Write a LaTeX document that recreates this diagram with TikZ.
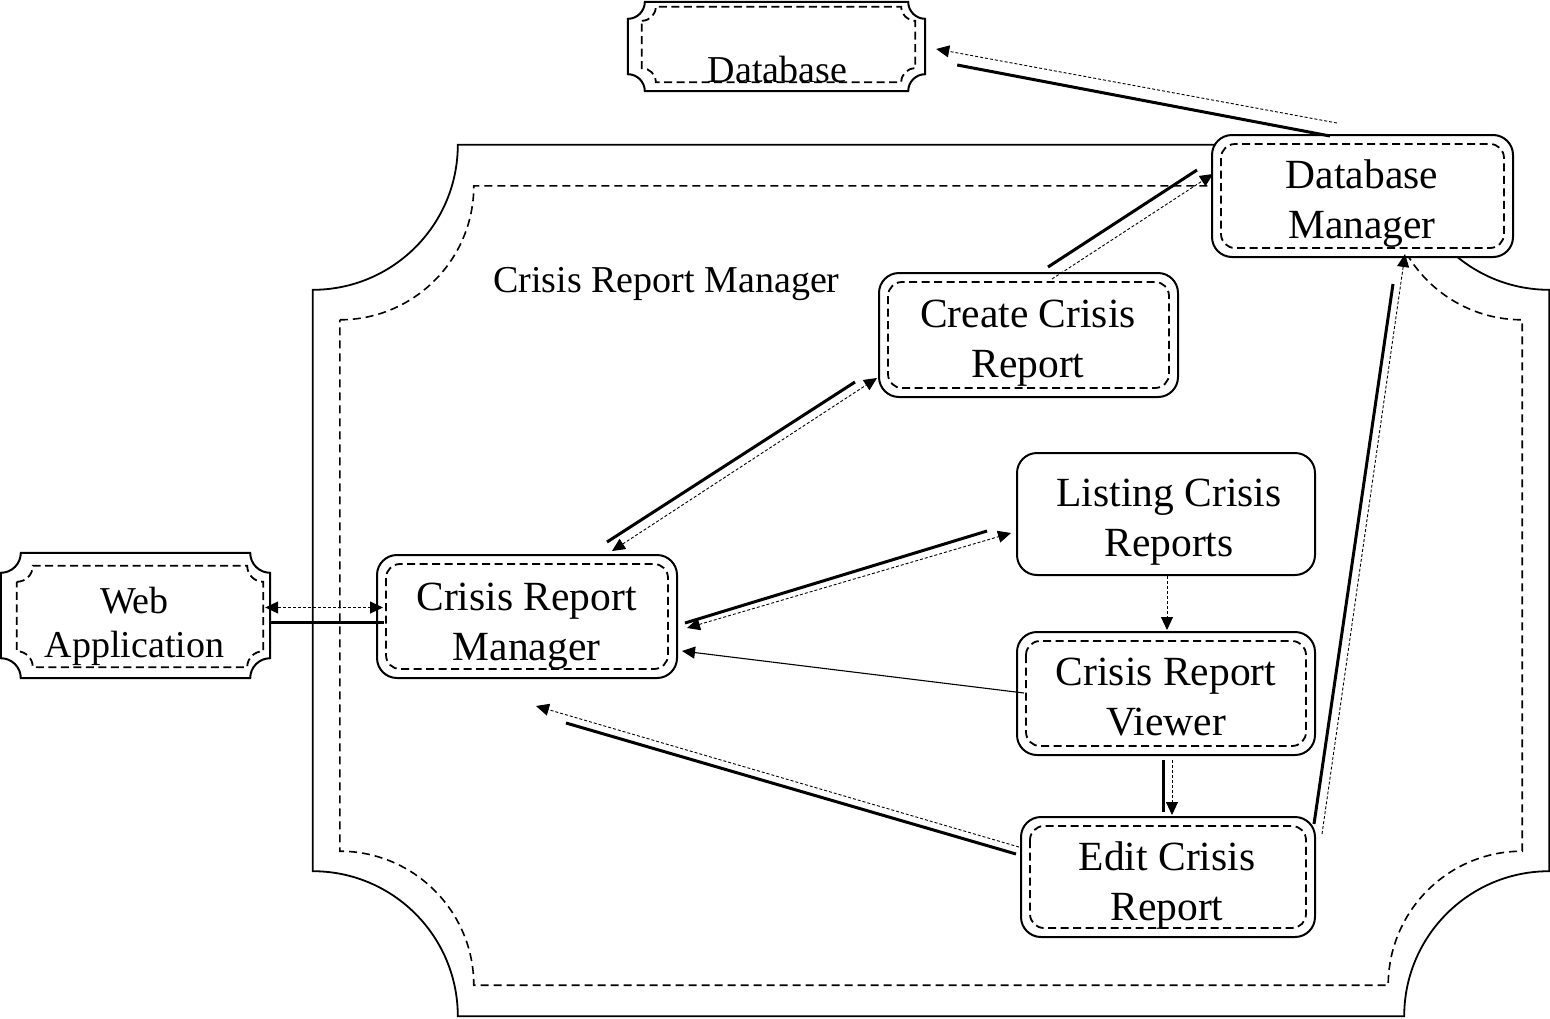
\documentclass[tikz,border=0pt]{standalone}
\usepackage{fontspec}
\setmainfont{Liberation Serif}
\usetikzlibrary{arrows.meta,calc}

% concave-cornered frame round a node: #1 node, #2 left, #3 top, #4 right, #5 bottom insets, #6 radius, #7 style
\newcommand\concaveframe[7]{%
  \path[#7] let \p1=(#1.north west), \p2=(#1.south east) in
    ({\x1+#2},{\y1-#3-#6}) arc[start angle=270,end angle=360,radius=#6]
    -- ({\x2-#4-#6},{\y1-#3}) arc[start angle=180,end angle=270,radius=#6]
    -- ({\x2-#4},{\y2+#5+#6}) arc[start angle=90,end angle=180,radius=#6]
    -- ({\x1+#2+#6},{\y2+#5}) arc[start angle=0,end angle=90,radius=#6]
    -- cycle;}
\newcommand\innerdash[1]{%
  \draw[idash] ([shift={(10,-10)}]#1.north west) rectangle ([shift={(-10,10)}]#1.south east);}

\tikzset{
  >={Triangle[length=13pt,width=12pt]},
  holder/.style={draw=none, inner sep=0pt},
  rbox/.style={draw, line width=2pt, rounded corners=20pt, fill=white, inner sep=0pt},
  idash/.style={line width=1.8pt, dash pattern=on 8pt off 4.5pt, rounded corners=14pt},
  cdash/.style={line width=1.6pt, dash pattern=on 8pt off 5pt},
  boxtxt/.style={align=center, inner sep=0pt, font=\fontsize{41.5}{50}\selectfont},
  smalltxt/.style={align=center, inner sep=0pt, font=\fontsize{38}{44}\selectfont},
  heavy/.style={line width=3pt},
  msg/.style={line width=0.9pt, dash pattern=on 3pt off 2pt},
  plain/.style={line width=1.1pt},
}

\begin{document}
\begin{tikzpicture}[x=1pt,y=1pt]
\useasboundingbox (0,0) rectangle (1550,-1018);

% container
\node[holder, minimum width=1236pt, minimum height=871pt] (container) at (931,-580.5) {};
\concaveframe{container}{0pt}{0pt}{0pt}{0pt}{145pt}{draw, line width=1.8pt}
\concaveframe{container}{27pt}{41pt}{27pt}{31pt}{134pt}{draw, cdash}
\node[smalltxt, anchor=base] (containerlabel) at (666.5,-292) {Crisis Report Manager};

% Database
\node[holder, minimum width=297pt, minimum height=89pt] (database) at (776.5,-46.5) {};
\concaveframe{database}{0pt}{0pt}{0pt}{0pt}{17pt}{draw, line width=2pt, fill=white}
\concaveframe{database}{14pt}{5pt}{10pt}{9pt}{14pt}{draw, line width=1.8pt, dash pattern=on 8pt off 4.5pt}
\node[smalltxt, anchor=base] (databasetext) at (777.5,-82) {Database};

% Web Application
\node[holder, minimum width=269pt, minimum height=125pt] (webapp) at (135.5,-615.5) {};
\concaveframe{webapp}{0pt}{0pt}{0pt}{0pt}{20pt}{draw, line width=2pt, fill=white}
\concaveframe{webapp}{16pt}{13pt}{7pt}{11pt}{16pt}{draw, line width=1.8pt, dash pattern=on 8pt off 4.5pt}
\node[smalltxt] (webapptext) at (134.5,-626) {Web\\Application};

% rounded boxes
\node[rbox, minimum width=300pt, minimum height=123pt] (crm) at (527,-616.5) {};
\innerdash{crm}
\node[boxtxt] (crmtext) at (526.5,-626) {Crisis Report\\Manager};

\node[rbox, minimum width=299pt, minimum height=124pt] (create) at (1028.5,-335) {};
\innerdash{create}
\node[boxtxt] (createtext) at (1028,-343) {Create Crisis\\Report};

\node[rbox, minimum width=301pt, minimum height=122pt] (dbm) at (1362.5,-196) {};
\innerdash{dbm}
\node[boxtxt] (dbmtext) at (1362,-204) {Database\\Manager};

\node[rbox, minimum width=298pt, minimum height=122pt] (listing) at (1166,-514) {};
\node[boxtxt] (listingtext) at (1169,-522) {Listing Crisis\\Reports};

\node[rbox, minimum width=298pt, minimum height=123pt] (viewer) at (1166,-693.5) {};
\innerdash{viewer}
\node[boxtxt] (viewertext) at (1166,-697.5) {Crisis Report\\Viewer};

\node[rbox, minimum width=294pt, minimum height=120pt] (edit) at (1168,-877) {};
\innerdash{edit}
\node[boxtxt] (edittext) at (1167,-886) {Edit Crisis\\Report};

% connectors
% Web Application <-> Crisis Report Manager
\draw[msg, <->] ([shift={(-5,8)}]webapp.east) -- ([shift={(7,9)}]crm.west);
\draw[heavy] ([shift={(0,-6.5)}]webapp.east) -- ([shift={(8,-5.5)}]crm.west);

% CRM <-> Create
\draw[msg, <->] ([shift={(85,3)}]crm.north) -- ([shift={(-1,20)}]create.south west);
\draw[heavy] ([shift={(80,12)}]crm.north) -- ([shift={(-23,16)}]create.south west);

% CRM <-> Listing
\draw[msg, <->] ([shift={(9,-11.5)}]crm.east) -- ([shift={(-5,-19)}]listing.west);
\draw[heavy] ([shift={(7,-6.5)}]crm.east) -- ([shift={(-29,-17)}]listing.west);

% Viewer -> CRM
\draw[plain, ->] ([shift={(8,0.5)}]viewer.west) -- ([shift={(4,-34.5)}]crm.east);

% Listing -> Viewer
\draw[msg, ->] ([xshift=1]listing.south) -- ([shift={(1,1)}]viewer.north);

% Viewer -> Edit
\draw[heavy] ([shift={(-3,-4)}]viewer.south) -- ([shift={(-5,4)}]edit.north);
\draw[msg, ->] ([shift={(6,-4)}]viewer.south) -- ([shift={(4,1)}]edit.north);

% Edit -> CRM
\draw[msg, ->] ([shift={(-1,30)}]edit.west) -- ([shift={(9,-27)}]crm.south);
\draw[heavy] ([shift={(-4,23)}]edit.west) -- ([shift={(39,-44)}]crm.south);

% Edit -> Database Manager
\draw[msg, ->] ([shift={(6,-18)}]edit.north east) -- ([shift={(42.5,4)}]dbm.south);
\draw[heavy] ([shift={(-2,-8)}]edit.north east) -- ([shift={(30.5,-26)}]dbm.south);

% Create -> Database Manager
\draw[msg, ->] ([shift={(23.5,-7)}]create.north) -- ([shift={(2,22)}]dbm.west);
\draw[heavy] ([shift={(19.5,5)}]create.north) -- ([shift={(-14,26)}]dbm.west);

% Database Manager -> Database
\draw[msg, ->] ([shift={(-25.5,11)}]dbm.north) -- ([shift={(11,-2.5)}]database.east);
\draw[heavy] ([shift={(-32.5,-2)}]dbm.north) -- ([shift={(32,-18.5)}]database.east);
\end{tikzpicture}
\end{document}
